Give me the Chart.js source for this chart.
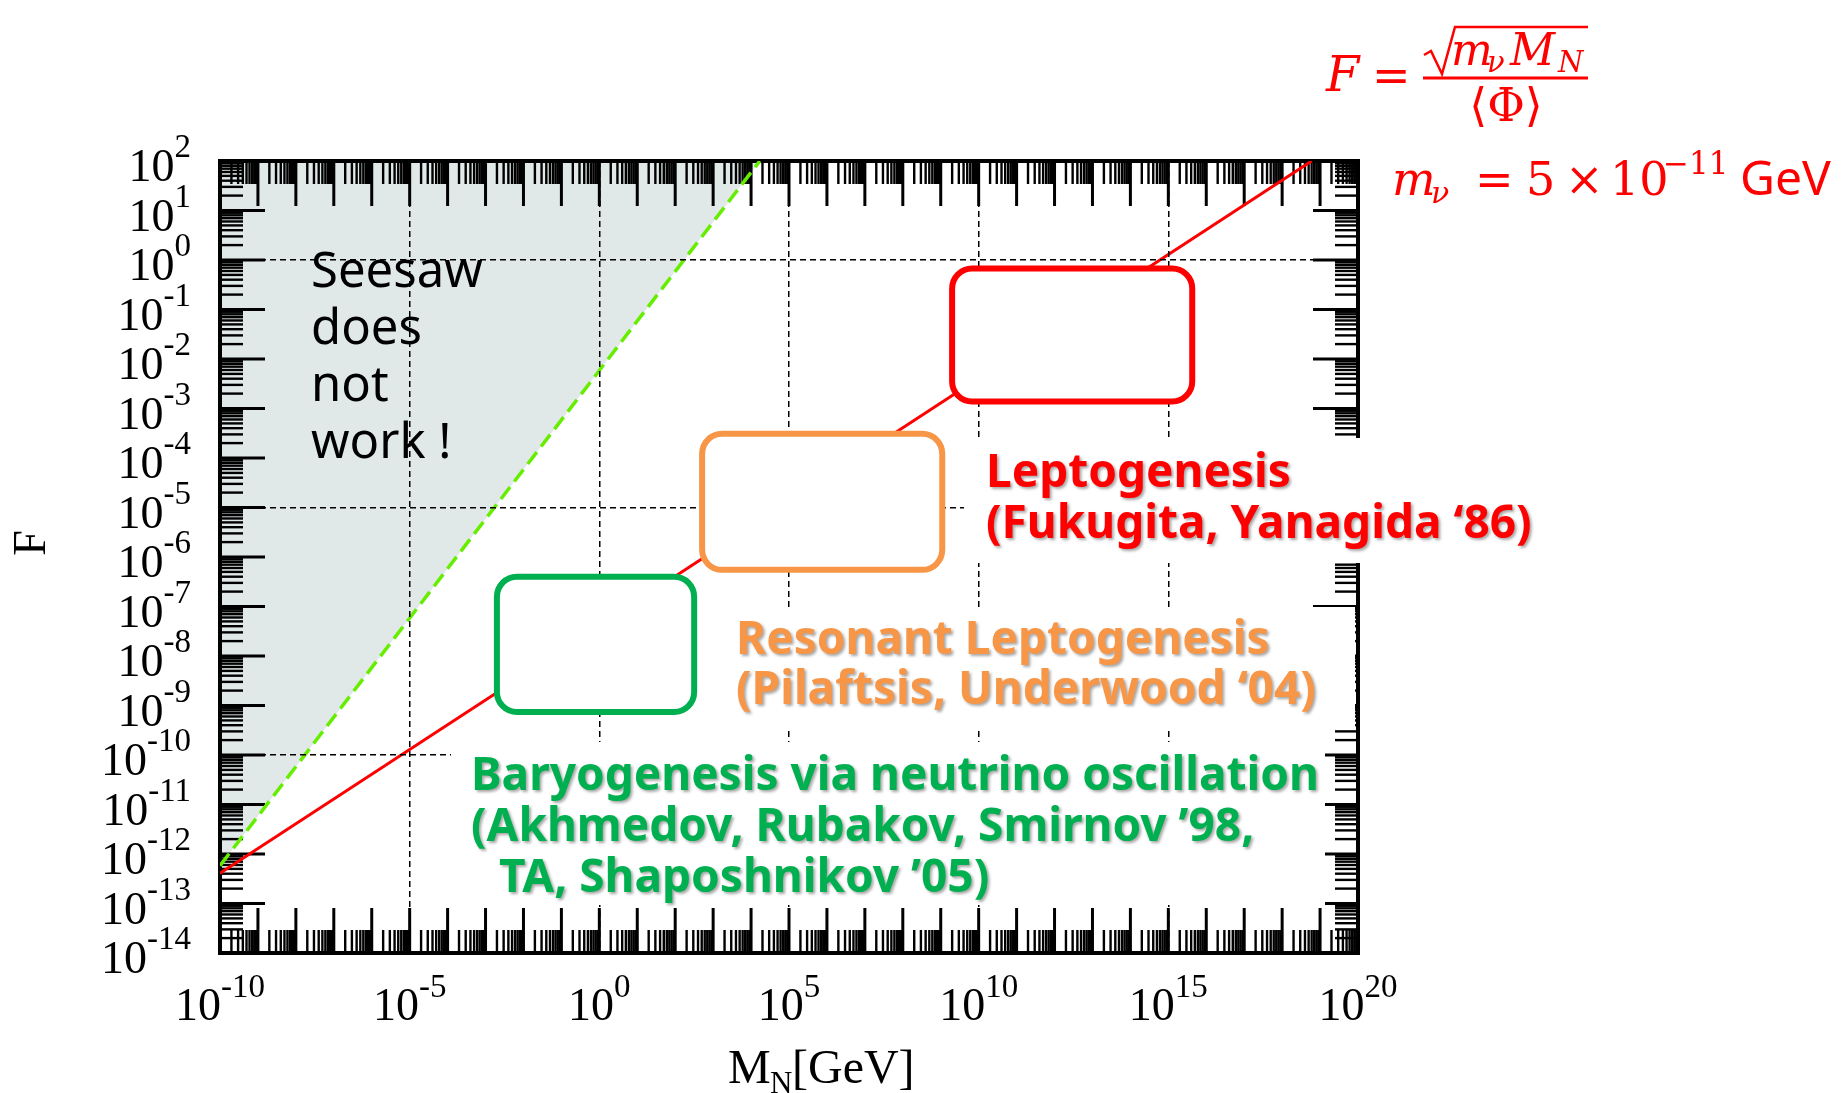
<!DOCTYPE html>
<html>
<head>
<meta charset="utf-8">
<script src="https://cdn.jsdelivr.net/npm/chart.js@4.4.0/dist/chart.umd.min.js"></script>
<style>
html,body{margin:0;padding:0;background:#ffffff;}
canvas{display:block;}
</style>
</head>
<body>
<canvas id="c" width="1848" height="1093"></canvas>
<script>
// ---------------- data ----------------
// Seesaw limit (green dashed line), M_N [GeV] vs F
const seesawM = [1e-10, 1.7e4];
const seesawF = [5.8e-13, 1e2];
// F = sqrt(m_nu M_N)/<Phi> (red line)
const yukawaM = [1e-10, 6e18];
const yukawaF = [4.1e-13, 1e2];

// axis ranges and tick labels (decimal exponents)
const xRange = [1e-10, 1e20];
const yRange = [1e-14, 1e2];
const xTickExponents = [-10, -5, 0, 5, 10, 15, 20];
const yTickExponents = [-14, -13, -12, -11, -10, -9, -8, -7, -6, -5, -4, -3, -2, -1, 0, 1, 2];
const xGridExponents = [-5, 0, 5, 10, 15];
const yGridExponents = [-10, -5, 0];
const minorMultipliers = [2, 3, 4, 5, 6, 7, 8, 9];

// marked regions, as decimal exponents of M_N and F
const leptoRegionM = [9.3, 15.63];
const leptoRegionF = [-2.86, -0.17];
const resonantRegionM = [2.71, 9.04];
const resonantRegionF = [-6.26, -3.51];
const arsRegionM = [-2.70, 2.50];
const arsRegionF = [-9.13, -6.40];

// texts
const seesawText = ['Seesaw', 'does', 'not', 'work !'];
const leptoText = ['Leptogenesis', '(Fukugita, Yanagida \u201886)'];
const resonantText = ['Resonant Leptogenesis', '(Pilaftsis, Underwood \u201804)'];
const arsText = ['Baryogenesis via neutrino oscillation', '(Akhmedov, Rubakov, Smirnov \u201998,', 'TA, Shaposhnikov \u201905)'];

// ---------------- styles ----------------
const RED = '#ff0000';
const ORANGE = '#f79646';
const GREEN = '#00b050';
const LIME = '#66ee00';
const SHADE = 'rgb(224,232,232)';
const SERIF = '"Liberation Serif", "Times New Roman", serif';
const MATH = '"DejaVu Serif", serif';
const SANS = '"Noto Sans", "Open Sans", sans-serif';

function pts(xs, ys) { return xs.map((x, i) => ({x: x, y: ys[i]})); }
function lg(e) { return Math.pow(10, e); }

function roundRect(ctx, x, y, w, h, r) {
  ctx.beginPath();
  ctx.moveTo(x + r, y);
  ctx.lineTo(x + w - r, y);
  ctx.arcTo(x + w, y, x + w, y + r, r);
  ctx.lineTo(x + w, y + h - r);
  ctx.arcTo(x + w, y + h, x + w - r, y + h, r);
  ctx.lineTo(x + r, y + h);
  ctx.arcTo(x, y + h, x, y + h - r, r);
  ctx.lineTo(x, y + r);
  ctx.arcTo(x, y, x + r, y, r);
  ctx.closePath();
}

function line(ctx, x1, y1, x2, y2) {
  ctx.beginPath(); ctx.moveTo(x1, y1); ctx.lineTo(x2, y2); ctx.stroke();
}

function drawFrame(chart) {
  const ctx = chart.ctx, a = chart.chartArea, xs = chart.scales.x, ys = chart.scales.y;
  const L = 45, S = 23;
  const xe0 = Math.round(Math.log10(xRange[0])), xe1 = Math.round(Math.log10(xRange[1]));
  const ye0 = Math.round(Math.log10(yRange[0])), ye1 = Math.round(Math.log10(yRange[1]));
  ctx.save();
  ctx.strokeStyle = '#000';
  for (let e = xe0; e <= xe1; e++) {
    const p = xs.getPixelForValue(lg(e));
    ctx.lineWidth = 3;
    line(ctx, p, a.bottom, p, a.bottom - L);
    line(ctx, p, a.top, p, a.top + L);
    if (e < xe1) {
      ctx.lineWidth = 2.4;
      minorMultipliers.forEach(k => {
        const q = xs.getPixelForValue(k * lg(e));
        line(ctx, q, a.bottom, q, a.bottom - S);
        line(ctx, q, a.top, q, a.top + S);
      });
    }
  }
  for (let e = ye0; e <= ye1; e++) {
    const p = ys.getPixelForValue(lg(e));
    ctx.lineWidth = 3;
    line(ctx, a.left, p, a.left + L, p);
    line(ctx, a.right, p, a.right - L, p);
    if (e < ye1) {
      ctx.lineWidth = 2.4;
      minorMultipliers.forEach(k => {
        const q = ys.getPixelForValue(k * lg(e));
        line(ctx, a.left, q, a.left + S, q);
        line(ctx, a.right, q, a.right - S, q);
      });
    }
  }
  ctx.lineWidth = 4;
  ctx.strokeRect(a.left, a.top, a.right - a.left, a.bottom - a.top);
  ctx.restore();
}

function drawPow(ctx, x, baseline, exp, align, rise) {
  const base = '10', sup = String(exp);
  const bf = '46px ' + SERIF, sf = '33px ' + SERIF;
  ctx.font = bf; const wb = ctx.measureText(base).width;
  ctx.font = sf; const ws = ctx.measureText(sup).width;
  const x0 = align === 'right' ? x - wb - ws : x - (wb + ws) / 2;
  ctx.textAlign = 'left';
  ctx.textBaseline = 'alphabetic';
  ctx.font = bf; ctx.fillText(base, x0, baseline);
  ctx.font = sf; ctx.fillText(sup, x0 + wb, baseline - rise);
}

// draw pieces of text at absolute left positions
function pieces(ctx, baseline, list) {
  ctx.textAlign = 'left';
  ctx.textBaseline = 'alphabetic';
  list.forEach(r => {
    ctx.font = r.f;
    ctx.fillText(r.t, r.x, baseline + (r.dy || 0));
  });
}

function regionBox(chart, mE, fE, color) {
  const ctx = chart.ctx, xs = chart.scales.x, ys = chart.scales.y;
  const x1 = xs.getPixelForValue(lg(mE[0])), x2 = xs.getPixelForValue(lg(mE[1]));
  const y1 = ys.getPixelForValue(lg(fE[1])), y2 = ys.getPixelForValue(lg(fE[0]));
  ctx.save();
  roundRect(ctx, x1, y1, x2 - x1, y2 - y1, 20);
  ctx.fillStyle = '#fff';
  ctx.fill();
  ctx.lineWidth = 6;
  ctx.strokeStyle = color;
  ctx.stroke();
  ctx.restore();
}

function textBlock(ctx, lines, xs, baselines, color, bg) {
  ctx.save();
  ctx.fillStyle = '#fff';
  ctx.fillRect(bg[0], bg[1], bg[2] - bg[0], bg[3] - bg[1]);
  ctx.font = 'bold 46px ' + SANS;
  ctx.textAlign = 'left';
  ctx.textBaseline = 'alphabetic';
  ctx.fillStyle = color;
  ctx.shadowColor = 'rgba(0,0,0,0.35)';
  ctx.shadowOffsetX = 2;
  ctx.shadowOffsetY = 2;
  ctx.shadowBlur = 3;
  lines.forEach((t, i) => ctx.fillText(t, xs[i], baselines[i]));
  ctx.restore();
}

const decor = {
  id: 'decor',
  afterDatasetDraw(chart, args) {
    if (args.index === 2) drawFrame(chart);
  },
  afterDraw(chart) {
    const ctx = chart.ctx, a = chart.chartArea, xs = chart.scales.x, ys = chart.scales.y;
    // regions
    regionBox(chart, leptoRegionM, leptoRegionF, RED);
    regionBox(chart, resonantRegionM, resonantRegionF, ORANGE);
    regionBox(chart, arsRegionM, arsRegionF, GREEN);
    // labels with white background
    textBlock(ctx, leptoText, [986, 986], [487, 538], RED, [964, 438, 1570, 563]);
    textBlock(ctx, resonantText, [736, 736], [654, 704], ORANGE, [715, 607, 1355, 730]);
    textBlock(ctx, arsText, [471, 471, 499], [790, 841, 892], GREEN, [451, 742, 1325, 905]);
    // seesaw text
    ctx.save();
    ctx.fillStyle = '#000';
    ctx.font = '49px ' + SANS;
    ctx.textAlign = 'left';
    ctx.textBaseline = 'alphabetic';
    const sb = [287, 344, 401, 458];
    seesawText.forEach((t, i) => ctx.fillText(t, 311, sb[i]));
    ctx.restore();
    // tick labels
    ctx.save();
    ctx.fillStyle = '#000';
    yTickExponents.forEach(e => {
      const p = ys.getPixelForValue(lg(e));
      drawPow(ctx, a.left - 29, p + 20, e, 'right', 24);
    });
    xTickExponents.forEach(e => {
      const p = xs.getPixelForValue(lg(e));
      drawPow(ctx, p, a.bottom + 67, e, 'center', 23);
    });
    // axis titles
    pieces(ctx, 1083, [
      {t: 'M', f: '48px ' + SERIF, x: 728},
      {t: 'N', f: '31px ' + SERIF, x: 770, dy: 10},
      {t: '[GeV]', f: '48px ' + SERIF, x: 792}
    ]);
    ctx.translate(45, 543);
    ctx.rotate(-Math.PI / 2);
    ctx.font = '46px ' + SERIF;
    ctx.textAlign = 'center';
    ctx.fillText('F', 0, 0);
    ctx.restore();
    // formula
    ctx.save();
    ctx.fillStyle = RED;
    ctx.strokeStyle = RED;
    pieces(ctx, 91, [
      {t: 'F', f: 'italic 48px ' + MATH, x: 1326},
      {t: '=', f: '46px ' + MATH, x: 1372}
    ]);
    ctx.lineWidth = 3;
    line(ctx, 1423, 78, 1588, 78);
    ctx.lineWidth = 2.5;
    ctx.beginPath();
    ctx.moveTo(1424, 55); ctx.lineTo(1431, 51); ctx.lineTo(1442, 74);
    ctx.lineTo(1455, 27); ctx.lineTo(1588, 27);
    ctx.stroke();
    pieces(ctx, 65, [
      {t: 'm', f: 'italic 44px ' + MATH, x: 1451},
      {t: '\u03bd', f: 'italic 29px ' + MATH, x: 1487, dy: 7},
      {t: 'M', f: 'italic 44px ' + MATH, x: 1510},
      {t: 'N', f: 'italic 29px ' + MATH, x: 1558, dy: 7}
    ]);
    ctx.font = '46px ' + MATH;
    ctx.textAlign = 'center';
    ctx.fillText('\u27e8\u03a6\u27e9', 1506, 121);
    pieces(ctx, 195, [
      {t: 'm', f: 'italic 46px ' + MATH, x: 1392},
      {t: '\u03bd', f: 'italic 30px ' + MATH, x: 1431, dy: 8},
      {t: '=', f: '46px ' + MATH, x: 1475},
      {t: '5', f: '46px ' + MATH, x: 1526},
      {t: '\u00d7', f: '46px ' + MATH, x: 1565},
      {t: '10', f: '46px ' + MATH, x: 1610},
      {t: '\u221211', f: '31px ' + MATH, x: 1663, dy: -21},
      {t: 'GeV', f: '48px ' + SANS, x: 1740}
    ]);
    ctx.restore();
  }
};

function gridColor(list) {
  return (c) => {
    if (!c.tick) return 'rgba(0,0,0,0)';
    const e = Math.round(Math.log10(c.tick.value));
    return list.indexOf(e) >= 0 ? '#000' : 'rgba(0,0,0,0)';
  };
}

new Chart(document.getElementById('c'), {
  type: 'scatter',
  data: {
    datasets: [
      {label: 'F = sqrt(m_nu M_N)/<Phi>', data: pts(yukawaM, yukawaF), showLine: true,
       borderColor: RED, borderWidth: 3, pointRadius: 0, fill: false, order: 1},
      {label: 'seesaw limit', data: pts(seesawM, seesawF), showLine: true,
       borderColor: LIME, borderWidth: 3.5, borderDash: [15, 7], pointRadius: 0, fill: false, order: 2},
      {label: 'seesaw does not work', data: pts(seesawM, seesawF), showLine: true,
       borderColor: 'rgba(0,0,0,0)', borderWidth: 0, backgroundColor: SHADE, pointRadius: 0, fill: 'end', order: 3}
    ]
  },
  options: {
    responsive: false,
    animation: false,
    events: [],
    layout: {padding: {left: 220, right: 490, top: 161, bottom: 140}},
    plugins: {legend: {display: false}, tooltip: {enabled: false}},
    scales: {
      x: {
        type: 'logarithmic', position: 'bottom', min: xRange[0], max: xRange[1],
        afterBuildTicks: s => { s.ticks = xTickExponents.map(e => ({value: lg(e)})); },
        ticks: {display: false},
        grid: {z: 1, drawTicks: false, lineWidth: 1.5, color: gridColor(xGridExponents)},
        border: {display: false, dash: [6, 4]},
        title: {display: false}
      },
      y: {
        type: 'logarithmic', position: 'left', min: yRange[0], max: yRange[1],
        afterBuildTicks: s => { s.ticks = yTickExponents.map(e => ({value: lg(e)})); },
        ticks: {display: false},
        grid: {z: 1, drawTicks: false, lineWidth: 1.5, color: gridColor(yGridExponents)},
        border: {display: false, dash: [6, 4]},
        title: {display: false}
      }
    }
  },
  plugins: [decor]
});
</script>
</body>
</html>
